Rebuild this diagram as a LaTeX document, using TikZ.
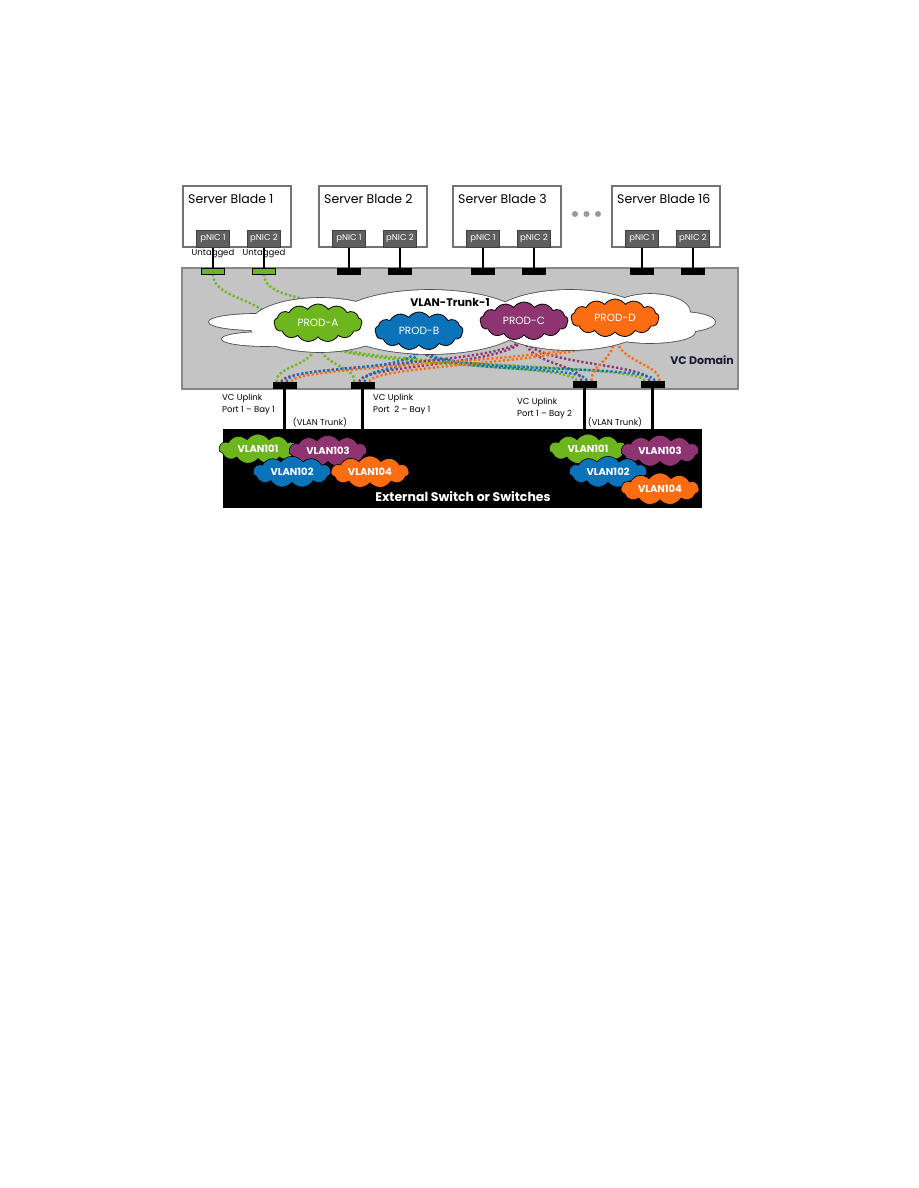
\documentclass[tikz,border=0pt]{standalone}
\usepackage{fontspec}
\setmainfont{Poppins}
\usetikzlibrary{positioning,calc,shapes.symbols}
\definecolor{domaingray}{RGB}{196,196,196}
\definecolor{domainedge}{RGB}{135,135,135}
\definecolor{bladeedge}{RGB}{115,115,115}
\definecolor{nicgray}{RGB}{95,95,95}
\definecolor{prodgreen}{RGB}{110,182,30}
\definecolor{prodblue}{RGB}{10,115,185}
\definecolor{prodpurple}{RGB}{142,52,112}
\definecolor{prodorange}{RGB}{252,108,18}
\definecolor{domainnavy}{RGB}{25,25,60}
\pgfdeclarelayer{bg}
\pgfdeclarelayer{wires}
\pgfsetlayers{bg,wires,main}
\begin{document}
\begin{tikzpicture}[x=1pt,y=-1pt,every node/.style={align=center,inner sep=0pt},
  blade/.style={draw=bladeedge,line width=1.6pt,fill=white,minimum width=108pt,minimum height=61pt,anchor=north west},
  nic/.style={draw=black!75,line width=0.8pt,fill=nicgray,text=white,font=\fontsize{8.5}{9}\selectfont,minimum width=33pt,minimum height=17pt,anchor=south},
  port/.style={draw=black,fill=black,minimum width=23pt,minimum height=6pt},
  prod/.style={cloud,cloud puffs=13,cloud puff arc=110,aspect=2.3,draw=black,line width=0.8pt,text=white,minimum width=88pt,minimum height=38pt,font=\fontsize{10.5}{12}\selectfont},
  vlan/.style={cloud,cloud puffs=11,cloud puff arc=110,aspect=2.6,draw=black,line width=0.6pt,text=white,minimum width=78pt,minimum height=29pt,font=\bfseries\fontsize{10}{12}\selectfont},
  wire/.style={line width=2.4pt,dash pattern=on 2.2pt off 2.2pt},
  lbl/.style={font=\fontsize{8.5}{12}\selectfont,align=left}]
\useasboundingbox (0,0) rectangle (918,1188);
\begin{pgfonlayer}{bg}
\fill[white] (0,0) rectangle (918,1188);
\node[draw=domainedge,line width=1.5pt,fill=domaingray,minimum width=556pt,minimum height=121pt,anchor=north west] (domain) at (181,267) {};
\end{pgfonlayer}
\foreach \x/\n/\id/\pc in {182/1/a/prodgreen,318/2/b/black,452/3/c/black,611/16/d/black}{
  \node[blade] (blade\id) at (\x,185) {};
  \node[anchor=base west,font=\fontsize{12.5}{14}\selectfont] at ($(blade\id.north west)+(6,18)$) {Server Blade \n};
  \node[nic] (nic\id1) at ($(blade\id.south west)+(31,0)$) {pNIC 1};
  \node[nic] (nic\id2) at ($(blade\id.south west)+(82,0)$) {pNIC 2};
  \node[port,fill=\pc] (port\id1) at (nic\id1 |- 0,271) {};
  \node[port,fill=\pc] (port\id2) at (nic\id2 |- 0,271) {};
  \draw[line width=1.1pt] (nic\id1.south) -- (port\id1.north);
  \draw[line width=1.1pt] (nic\id2.south) -- (port\id2.north);
}
\node[font=\fontsize{8.5}{10}\selectfont] at (nica1 |- 0,254) {Untagged};
\node[font=\fontsize{8.5}{10}\selectfont] at (nica2 |- 0,254) {Untagged};
\foreach \dx in {0,11.5,23} \fill[black!40] (575+\dx,214) circle (3);
\def\trunkpuffs{255/322/46/8,265/339/43/7,320/325/70/27,430/322/95/32,570/320/80/30,650/312/40/18,680/322/35/10,650/332/45/11}
\foreach \cx/\cy/\rx/\ry in \trunkpuffs \draw[black!70,line width=1.6pt] (\cx,\cy) ellipse [x radius=\rx,y radius=\ry];
\foreach \cx/\cy/\rx/\ry in \trunkpuffs \fill[white] (\cx,\cy) ellipse [x radius=\rx,y radius=\ry];
\node[font=\bfseries\fontsize{11}{13}\selectfont] (trunk) at (450,302) {VLAN-Trunk-1};
\node[prod,fill=prodgreen] (proda) at (318,323) {PROD-A};
\node[prod,fill=prodblue] (prodb) at (419,331) {PROD-B};
\node[prod,fill=prodpurple] (prodc) at (524,321) {PROD-C};
\node[prod,fill=prodorange] (prodd) at (615,318) {PROD-D};
\node[font=\bfseries\fontsize{11}{13}\selectfont,text=domainnavy,anchor=east] (vcdomain) at (734,360) {VC Domain};
\node[port] (up1) at (284.5,385) {};
\node[port] (up2) at (362.5,385) {};
\node[port] (up3) at (584.5,384) {};
\node[port] (up4) at (652.5,384) {};
\node[fill=black,minimum width=479pt,minimum height=79pt,anchor=north west] (switch) at (223,429) {};
\foreach \u in {1,...,4} \draw[line width=3.5pt] (up\u.south) -- (up\u.south |- switch.north);
\node[lbl,anchor=north west] at (222,394) {VC Uplink\\Port 1 -- Bay 1};
\node[lbl,anchor=north west] at (373,394) {VC Uplink\\Port~~2 -- Bay 1};
\node[lbl,anchor=north west] at (517,398) {VC Uplink\\Port 1 -- Bay 2};
\node[lbl] at (320,422) {(VLAN Trunk)};
\node[lbl] at (615,422) {(VLAN Trunk)};
\node[vlan,fill=prodgreen] (vlanla) at (258,449) {VLAN101};
\node[vlan,fill=prodpurple] (vlanlc) at (328,451) {VLAN103};
\node[vlan,fill=prodblue] (vlanlb) at (292,472) {VLAN102};
\node[vlan,fill=prodorange] (vlanld) at (370,472) {VLAN104};
\node[vlan,fill=prodgreen] (vlanra) at (588,449) {VLAN101};
\node[vlan,fill=prodpurple] (vlanrc) at (660,451) {VLAN103};
\node[vlan,fill=prodblue] (vlanrb) at (608,472) {VLAN102};
\node[vlan,fill=prodorange] (vlanrd) at (660,489) {VLAN104};
\node[text=white,font=\bfseries\fontsize{12.5}{14}\selectfont] (extswitch) at (463,497) {External Switch or Switches};
\begin{pgfonlayer}{wires}
\foreach \src/\col/\dx in {proda/prodgreen/-8,prodc/prodpurple/-3,prodb/prodblue/2,prodd/prodorange/7}
  \foreach \u in {1,...,4}
    \draw[wire,\col] ($(up\u.north)+(\dx,0)$) .. controls +(0,-18) and +(0,30) .. (\src.south);
\draw[wire,prodgreen] (porta1.south) .. controls +(0,25) and +(-10,-25) .. (proda.west);
\draw[wire,prodgreen] (porta2.south) .. controls +(0,20) and +(-20,-8) .. (proda.north);
\end{pgfonlayer}
\end{tikzpicture}
\end{document}
